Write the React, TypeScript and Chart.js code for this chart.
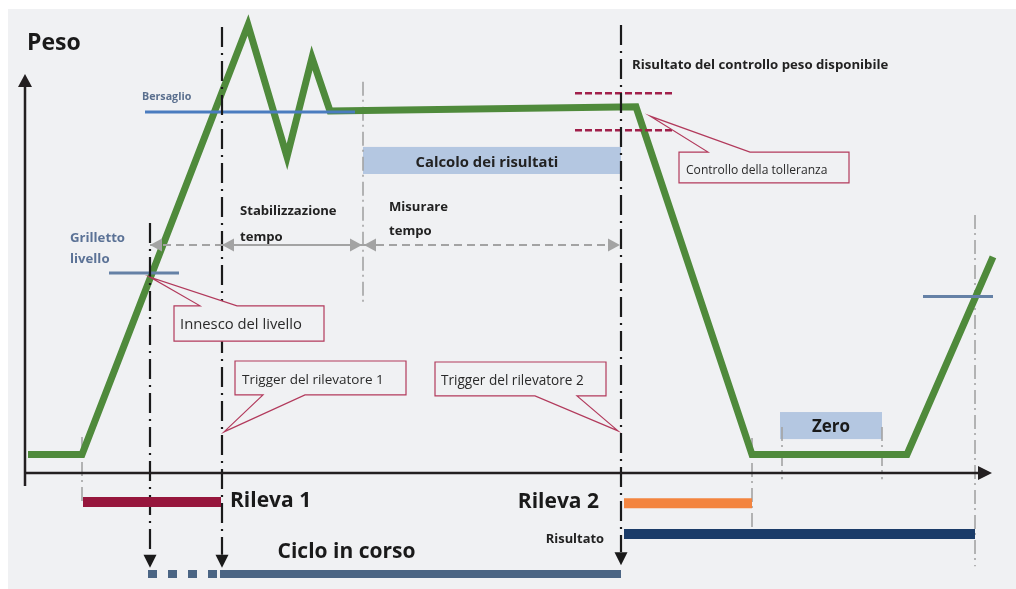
import React, { useEffect, useRef } from "react";
import { Chart, registerables } from "chart.js";
Chart.register(...registerables);

// ---------- Data (x = time units, y = weight units: 0 = empty, 100 = target) ----------
const curveTime = [2.8, 8.2, 24.8, 28.7, 31.2, 33.0, 63.6, 75.2, 90.7, 99.3];
const curveWeight = [0, 0, 125.4, 86.9, 115.8, 100.3, 101.5, 0, 0, 57.7];

const targetWeight = 100;
const targetSpan = [14.5, 35.5];
const triggerLevel = 53.0;
const triggerSpan = [10.9, 17.9];
const triggerLevelNext = 46.1;
const triggerSpanNext = [92.3, 99.3];
const toleranceHigh = 105.5;
const toleranceLow = 94.7;
const toleranceSpan = [57.5, 67.2];

// event times
const tStart = 8.2;
const tLevel = 15.0;
const tDet1 = 22.2;
const tStable = 36.3;
const tDet2 = 62.1;
const tEmpty = 75.2;
const tZero = [78.2, 88.2];
const tNext = 97.5;

// phase bars [start, end, level]
const rileva1Bar = [8.3, 22.1, -13.9];
const rileva2Bar = [62.4, 75.2, -14.2];
const risultatoBar = [62.4, 97.5, -23.2];
const cicloDashedBar = [14.8, 22.0, -34.9];
const cicloSolidBar = [22.0, 62.1, -34.9];

// axes
const axisTime = 2.5;
const axisLevel = -5.4;

const BG = "#f0f1f3";
const FONT = "'Open Sans', 'Noto Sans', sans-serif";

type Seg = { t: number[]; w: number[]; color: string; width: number; dash?: number[] };

const segments: Seg[] = [
  // grey dash-dot guides
  { t: [tStable, tStable], w: [108.8, 43.6], color: "#a3a3a3", width: 1.6, dash: [14, 4, 2, 5] },
  { t: [tStart, tStart], w: [5.1, -13.9], color: "#a3a3a3", width: 1.6, dash: [14, 4, 2, 5] },
  { t: [tEmpty, tEmpty], w: [4.8, -22.0], color: "#a3a3a3", width: 1.6, dash: [14, 4, 2, 5] },
  { t: [tZero[0], tZero[0]], w: [8.0, -7.2], color: "#a3a3a3", width: 1.6, dash: [14, 4, 2, 5] },
  { t: [tZero[1], tZero[1]], w: [8.0, -7.2], color: "#a3a3a3", width: 1.6, dash: [14, 4, 2, 5] },
  { t: [tNext, tNext], w: [69.9, -32.6], color: "#a3a3a3", width: 1.6, dash: [14, 4, 2, 5] },
  // weight curve
  { t: curveTime, w: curveWeight, color: "#4f8a3b", width: 7 },
  // target, trigger levels, tolerance
  { t: targetSpan, w: [targetWeight, targetWeight], color: "#4a7cbf", width: 3 },
  { t: triggerSpan, w: [triggerLevel, triggerLevel], color: "#6581a6", width: 3 },
  { t: triggerSpanNext, w: [triggerLevelNext, triggerLevelNext], color: "#6581a6", width: 3 },
  { t: toleranceSpan, w: [toleranceHigh, toleranceHigh], color: "#a01f4a", width: 2.5, dash: [7, 3] },
  { t: toleranceSpan, w: [toleranceLow, toleranceLow], color: "#a01f4a", width: 2.5, dash: [7, 3] },
  // black event lines
  { t: [tLevel, tLevel], w: [67.6, -29.3], color: "#1a1a1a", width: 2.2, dash: [20, 6, 2, 6] },
  { t: [tDet1, tDet1], w: [124.8, -29.3], color: "#1a1a1a", width: 2.2, dash: [20, 6, 2, 6] },
  { t: [tDet2, tDet2], w: [125.4, -28.5], color: "#1a1a1a", width: 2.2, dash: [20, 6, 2, 6] },
  // grey time arrows
  { t: [tLevel, tDet1], w: [61.2, 61.2], color: "#a3a3a3", width: 2, dash: [8, 5] },
  { t: [tDet1, tStable], w: [61.2, 61.2], color: "#a3a3a3", width: 2 },
  { t: [tStable, tDet2], w: [61.2, 61.2], color: "#a3a3a3", width: 2, dash: [8, 5] },
  // axes
  { t: [axisTime, axisTime], w: [-9.2, 107.3], color: "#231f20", width: 2.5 },
  { t: [axisTime, 97.8], w: [axisLevel, axisLevel], color: "#231f20", width: 2.5 },
  // phase bars
  { t: [rileva1Bar[0], rileva1Bar[1]], w: [rileva1Bar[2], rileva1Bar[2]], color: "#96163c", width: 10 },
  { t: [rileva2Bar[0], rileva2Bar[1]], w: [rileva2Bar[2], rileva2Bar[2]], color: "#f3843f", width: 10 },
  { t: [risultatoBar[0], risultatoBar[1]], w: [risultatoBar[2], risultatoBar[2]], color: "#1b3c69", width: 10 },
  { t: [cicloDashedBar[0], cicloDashedBar[1]], w: [cicloDashedBar[2], cicloDashedBar[2]], color: "#4b6584", width: 8, dash: [9, 11] },
  { t: [cicloSolidBar[0], cicloSolidBar[1]], w: [cicloSolidBar[2], cicloSolidBar[2]], color: "#4b6584", width: 8 },
];

// boxes [t0, t1, wTop, wBottom]
const boxes = [
  { r: [tStable, tDet2, 89.8, 81.9], fill: "#b4c7e1" },
  { r: [78.0, 88.2, 12.4, 4.5], fill: "#b4c7e1" },
];

type Callout = { text: string; r: number[]; tip: number[]; base: number[]; side: "top" | "bottom"; at: number[]; size: number };
const callouts: Callout[] = [
  { text: "Innesco del livello", r: [17.4, 32.4, 43.4, 33.1], tip: [15.0, 51.8], base: [20.0, 23.7], side: "top", at: [18.0, 37.8], size: 14.8 },
  { text: "Trigger del rilevatore 1", r: [23.5, 40.6, 27.3, 17.4], tip: [22.4, 6.6], base: [26.3, 30.5], side: "bottom", at: [24.2, 21.8], size: 13.5 },
  { text: "Trigger del rilevatore 2", r: [43.5, 60.6, 27.0, 17.1], tip: [61.8, 6.9], base: [53.5, 57.7], side: "bottom", at: [44.1, 21.5], size: 13.6 },
  { text: "Controllo della tolleranza", r: [67.9, 84.9, 88.3, 79.3], tip: [65.0, 98.8], base: [70.8, 75.0], side: "top", at: [68.6, 82.8], size: 12.1 },
];

type Label = { text: string; t: number; w: number; size: number; bold: boolean; color: string; align: CanvasTextAlign };
const labels: Label[] = [
  { text: "Peso", t: 2.7, w: 120.0, size: 23, bold: true, color: "#1a1a1a", align: "left" },
  { text: "Bersaglio", t: 14.2, w: 104.4, size: 10.7, bold: true, color: "#5a6f8e", align: "left" },
  { text: "Grilletto", t: 7.0, w: 63.2, size: 13.2, bold: true, color: "#5b7296", align: "left" },
  { text: "livello", t: 7.0, w: 57.1, size: 13.2, bold: true, color: "#5b7296", align: "left" },
  { text: "Stabilizzazione", t: 24.0, w: 71.1, size: 13.1, bold: true, color: "#222222", align: "left" },
  { text: "tempo", t: 24.0, w: 63.5, size: 13.1, bold: true, color: "#222222", align: "left" },
  { text: "Misurare", t: 38.9, w: 72.3, size: 13.1, bold: true, color: "#222222", align: "left" },
  { text: "tempo", t: 38.9, w: 65.3, size: 13.1, bold: true, color: "#222222", align: "left" },
  { text: "Calcolo dei risultati", t: 48.7, w: 85.1, size: 14.8, bold: true, color: "#222222", align: "center" },
  { text: "Risultato del controllo peso disponibile", t: 63.2, w: 113.7, size: 13.2, bold: true, color: "#222222", align: "left" },
  { text: "Rileva 1", t: 23.0, w: -13.6, size: 21, bold: true, color: "#1a1a1a", align: "left" },
  { text: "Rileva 2", t: 59.9, w: -13.9, size: 21, bold: true, color: "#1a1a1a", align: "right" },
  { text: "Risultato", t: 60.4, w: -24.7, size: 12.9, bold: true, color: "#222222", align: "right" },
  { text: "Ciclo in corso", t: 34.65, w: -28.5, size: 21, bold: true, color: "#1a1a1a", align: "center" },
  { text: "Zero", t: 83.1, w: 8.0, size: 17, bold: true, color: "#1a1a1a", align: "center" },
];

// arrowheads: [t, w, direction]
const arrowHeads: { t: number; w: number; dir: "up" | "down" | "left" | "right"; color: string; len: number; half: number }[] = [
  { t: axisTime, w: 111.1, dir: "up", color: "#231f20", len: 13, half: 7 },
  { t: 99.2, w: axisLevel, dir: "right", color: "#231f20", len: 14, half: 7 },
  { t: tLevel, w: -33.1, dir: "down", color: "#1a1a1a", len: 13, half: 6.5 },
  { t: tDet1, w: -33.1, dir: "down", color: "#1a1a1a", len: 13, half: 6.5 },
  { t: tDet2, w: -32.3, dir: "down", color: "#1a1a1a", len: 13, half: 6.5 },
  { t: tLevel, w: 61.2, dir: "left", color: "#a3a3a3", len: 12, half: 6.5 },
  { t: tDet1, w: 61.2, dir: "left", color: "#a3a3a3", len: 12, half: 6.5 },
  { t: 36.2, w: 61.2, dir: "right", color: "#a3a3a3", len: 12, half: 6.5 },
  { t: 36.4, w: 61.2, dir: "left", color: "#a3a3a3", len: 12, half: 6.5 },
  { t: 62.0, w: 61.2, dir: "right", color: "#a3a3a3", len: 12, half: 6.5 },
];

const diagramPlugin = {
  id: "diagram",
  beforeDraw(chart: any) {
    const { ctx, width, height } = chart;
    ctx.save();
    ctx.fillStyle = "#ffffff";
    ctx.fillRect(0, 0, width, height);
    ctx.fillStyle = BG;
    ctx.fillRect(8, 9, width - 8, height - 9);
    ctx.restore();
  },
  beforeDatasetsDraw(chart: any) {
    const { ctx } = chart;
    const X = (v: number) => chart.scales.x.getPixelForValue(v);
    const Y = (v: number) => chart.scales.y.getPixelForValue(v);
    ctx.save();
    boxes.forEach((b) => {
      ctx.fillStyle = b.fill;
      ctx.fillRect(X(b.r[0]), Y(b.r[2]), X(b.r[1]) - X(b.r[0]), Y(b.r[3]) - Y(b.r[2]));
    });
    ctx.restore();
  },
  afterDatasetsDraw(chart: any) {
    const { ctx } = chart;
    const X = (v: number) => chart.scales.x.getPixelForValue(v);
    const Y = (v: number) => chart.scales.y.getPixelForValue(v);
    ctx.save();
    // arrowheads
    arrowHeads.forEach((a) => {
      const x = X(a.t), y = Y(a.w);
      ctx.fillStyle = a.color;
      ctx.beginPath();
      ctx.moveTo(x, y);
      if (a.dir === "up") { ctx.lineTo(x - a.half, y + a.len); ctx.lineTo(x + a.half, y + a.len); }
      if (a.dir === "down") { ctx.lineTo(x - a.half, y - a.len); ctx.lineTo(x + a.half, y - a.len); }
      if (a.dir === "left") { ctx.lineTo(x + a.len, y - a.half); ctx.lineTo(x + a.len, y + a.half); }
      if (a.dir === "right") { ctx.lineTo(x - a.len, y - a.half); ctx.lineTo(x - a.len, y + a.half); }
      ctx.closePath();
      ctx.fill();
    });
    // callouts
    callouts.forEach((c) => {
      const x0 = X(c.r[0]), x1 = X(c.r[1]), yt = Y(c.r[2]), yb = Y(c.r[3]);
      const ba = X(c.base[0]), bb = X(c.base[1]);
      const tx = X(c.tip[0]), ty = Y(c.tip[1]);
      ctx.beginPath();
      if (c.side === "top") {
        ctx.moveTo(x0, yt); ctx.lineTo(ba, yt); ctx.lineTo(tx, ty); ctx.lineTo(bb, yt);
        ctx.lineTo(x1, yt); ctx.lineTo(x1, yb); ctx.lineTo(x0, yb);
      } else {
        ctx.moveTo(x0, yt); ctx.lineTo(x1, yt); ctx.lineTo(x1, yb); ctx.lineTo(bb, yb);
        ctx.lineTo(tx, ty); ctx.lineTo(ba, yb); ctx.lineTo(x0, yb);
      }
      ctx.closePath();
      ctx.fillStyle = BG;
      ctx.fill();
      ctx.strokeStyle = "#b23a5c";
      ctx.lineWidth = 1.2;
      ctx.lineJoin = "miter";
      ctx.stroke();
      ctx.fillStyle = "#2a2a2a";
      ctx.font = `${c.size}px ${FONT}`;
      ctx.textAlign = "left";
      ctx.textBaseline = "middle";
      ctx.fillText(c.text, X(c.at[0]), Y(c.at[1]));
    });
    // labels
    labels.forEach((l) => {
      ctx.fillStyle = l.color;
      ctx.font = `${l.bold ? "bold " : ""}${l.size}px ${FONT}`;
      ctx.textAlign = l.align;
      ctx.textBaseline = "middle";
      ctx.fillText(l.text, X(l.t), Y(l.w));
    });
    ctx.restore();
  },
};

export default function App() {
  const ref = useRef<HTMLCanvasElement | null>(null);
  useEffect(() => {
    if (!ref.current) return;
    const chart = new Chart(ref.current, {
      type: "scatter",
      data: {
        datasets: segments.map((s, i) => ({
          data: s.t.map((t, k) => ({ x: t, y: s.w[k] })),
          showLine: true,
          borderColor: s.color,
          backgroundColor: s.color,
          borderWidth: s.width,
          borderDash: s.dash || [],
          borderCapStyle: "butt",
          borderJoinStyle: "miter",
          pointRadius: 0,
          pointHoverRadius: 0,
          tension: 0,
          fill: false,
          order: -i,
          clip: false,
        })) as any,
      },
      options: {
        animation: false,
        responsive: false,
        devicePixelRatio: 1,
        events: [],
        layout: { padding: 0 },
        plugins: { legend: { display: false }, tooltip: { enabled: false } },
        scales: {
          x: { type: "linear", min: 0, max: 101.6, display: false },
          y: { type: "linear", min: -39.27, max: 132.7, display: false },
        },
      },
      plugins: [diagramPlugin],
    });
    return () => chart.destroy();
  }, []);
  return (
    <div style={{ position: "fixed", left: 0, top: 0, width: 1016, height: 589 }}>
      <canvas ref={ref} width={1016} height={589} />
    </div>
  );
}
